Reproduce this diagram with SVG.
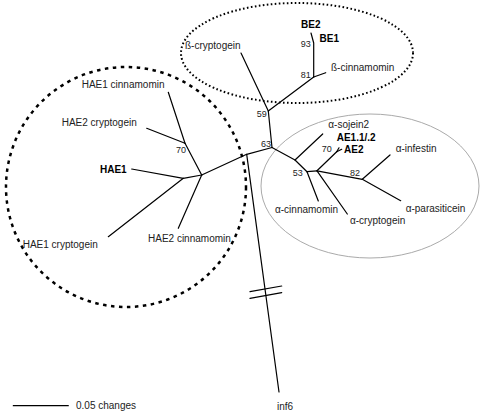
<svg xmlns="http://www.w3.org/2000/svg" width="480" height="411" viewBox="0 0 480 411">
<style>
text{font-family:"Liberation Sans",Arial,sans-serif;font-size:10px;fill:#222}
.b{font-weight:bold;fill:#000}
.n{font-size:9px}
.br{stroke:#000;stroke-width:1.2;fill:none;stroke-linecap:round;stroke-linejoin:round}
</style>
<rect width="480" height="411" fill="#fff"/>
<g id="clades">
<ellipse id="beta-clade" cx="297" cy="53" rx="116" ry="50" fill="none" stroke="#000" stroke-width="2" stroke-dasharray="1.6 2.4"/>
<circle id="hae-clade" cx="126" cy="187" r="120" fill="none" stroke="#000" stroke-width="2.5" stroke-dasharray="3.5 4.5"/>
<ellipse id="alpha-clade" cx="370" cy="186" rx="109" ry="72" fill="none" stroke="#aaa" stroke-width="1"/>
</g>
<g id="connectors" class="br">
<!-- beta -->
<polyline points="311,33 313.7,43 313.7,77"/>
<line x1="313.7" y1="77" x2="325.7" y2="72.7"/>
<line x1="313.7" y1="77" x2="268.3" y2="111"/>
<line x1="241" y1="53" x2="268.3" y2="111"/>
<line x1="268.3" y1="111" x2="272" y2="147.5"/>
<!-- backbone -->
<polyline points="272,147.5 246.7,154.3 201.7,175"/>
<line x1="246.7" y1="154.3" x2="279" y2="392"/>
<line x1="250" y1="291.7" x2="281.7" y2="286"/>
<line x1="250" y1="298.3" x2="281.7" y2="292.7"/>
<!-- HAE -->
<line x1="201.7" y1="175" x2="185" y2="143.3"/>
<line x1="185" y1="143.3" x2="168.3" y2="92.3"/>
<line x1="185" y1="143.3" x2="146.7" y2="128.3"/>
<line x1="201.7" y1="175" x2="178.3" y2="228.3"/>
<line x1="201.7" y1="175" x2="183.3" y2="178.3"/>
<line x1="183.3" y1="178.3" x2="131.7" y2="169"/>
<line x1="183.3" y1="178.3" x2="108.3" y2="236.7"/>
<!-- alpha -->
<polyline points="272,147.5 295,160 307,171.7"/>
<line x1="295" y1="160" x2="322.7" y2="134"/>
<line x1="307" y1="171.7" x2="318.3" y2="201"/>
<line x1="307" y1="171.7" x2="317" y2="170.8"/>
<line x1="317" y1="170.8" x2="336.7" y2="151.7"/>
<line x1="336.7" y1="151.7" x2="339" y2="147.8"/>
<line x1="336.7" y1="151.7" x2="341.7" y2="149.3"/>
<line x1="317" y1="170.8" x2="347.3" y2="214"/>
<line x1="317" y1="170.8" x2="362.3" y2="179.3"/>
<line x1="362.3" y1="179.3" x2="390" y2="155"/>
<line x1="362.3" y1="179.3" x2="400.7" y2="200.7"/>
<!-- scale -->
<line x1="13.3" y1="405.7" x2="68.3" y2="405.7"/>
</g>
<g id="BE2"><text class="b" x="301" y="28">BE2</text></g>
<g id="BE1"><text class="b" x="319.5" y="42.3">BE1</text></g>
<g id="b93"><text class="n" x="300.7" y="46.7">93</text></g>
<g id="b-cryptogein"><text x="185" y="49">ß-cryptogein</text></g>
<g id="b81"><text class="n" x="300.7" y="78.3">81</text></g>
<g id="b-cinnamomin"><text x="331" y="70.7">ß-cinnamomin</text></g>
<g id="b59"><text class="n" x="256.7" y="117.3">59</text></g>
<g id="b63"><text class="n" x="261" y="147">63</text></g>
<g id="HAE1-cinnamomin"><text x="81.7" y="87.7">HAE1 cinnamomin</text></g>
<g id="HAE2-cryptogein"><text x="61.7" y="126">HAE2 cryptogein</text></g>
<g id="h70"><text class="n" x="176" y="153">70</text></g>
<g id="HAE1"><text class="b" x="100" y="172.7">HAE1</text></g>
<g id="HAE1-cryptogein"><text x="22.7" y="248.3">HAE1 cryptogein</text></g>
<g id="HAE2-cinnamomin"><text x="148" y="241.7">HAE2 cinnamomin</text></g>
<g id="a-sojein2"><text x="328.3" y="127.7">α-sojein2</text></g>
<g id="AE1"><text class="b" x="336.7" y="141.3">AE1.1/.2</text></g>
<g id="a70"><text class="n" x="321.7" y="151.7">70</text></g>
<g id="AE2"><text class="b" x="344" y="152.7">AE2</text></g>
<g id="a-infestin"><text x="395.7" y="152">α-infestin</text></g>
<g id="a53"><text class="n" x="292.7" y="176">53</text></g>
<g id="a82"><text class="n" x="350" y="176">82</text></g>
<g id="a-cinnamomin"><text x="275" y="213">α-cinnamomin</text></g>
<g id="a-cryptogein"><text x="350" y="224">α-cryptogein</text></g>
<g id="a-parasiticein"><text x="405.7" y="211.7">α-parasiticein</text></g>
<g id="inf6"><text x="285" y="409.5" text-anchor="middle">inf6</text></g>
<g id="scale"><text x="76" y="409">0.05 changes</text></g>
</svg>
